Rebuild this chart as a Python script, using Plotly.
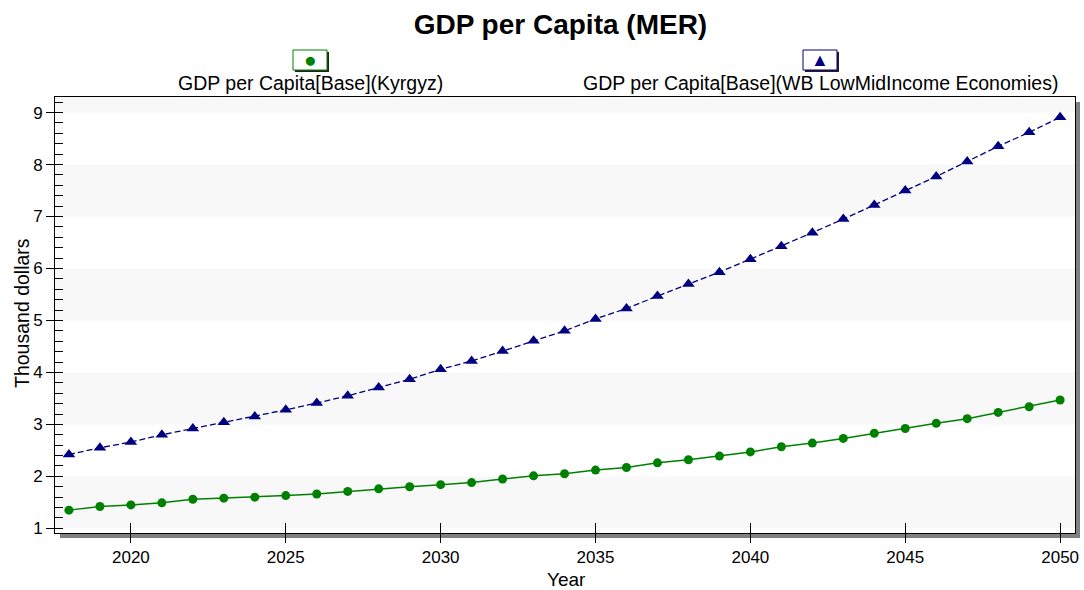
import plotly.graph_objects as go

# ---- data ----
years = list(range(2018, 2051))
kyrgyz = [1.35, 1.42, 1.45, 1.49, 1.56, 1.58, 1.60, 1.63, 1.66, 1.71, 1.76, 1.80, 1.84,
          1.88, 1.95, 2.01, 2.05, 2.12, 2.17, 2.26, 2.32, 2.39, 2.47,
          2.57, 2.64, 2.73, 2.83, 2.92, 3.02, 3.11, 3.23, 3.34, 3.47]
wb_lowmid = [2.42, 2.55, 2.66, 2.80, 2.92, 3.04, 3.15, 3.28, 3.41, 3.55, 3.71, 3.87, 4.06,
             4.22, 4.41, 4.61, 4.80, 5.03, 5.23, 5.47, 5.70, 5.93, 6.18,
             6.43, 6.69, 6.95, 7.22, 7.50, 7.77, 8.06, 8.35, 8.62, 8.91]
series_names = ["GDP per Capita[Base](Kyrgyz)",
                "GDP per Capita[Base](WB LowMidIncome Economies)"]
title_text = "GDP per Capita (MER)"
x_title = "Year"
y_title = "Thousand dollars"
x_ticks = [2020, 2025, 2030, 2035, 2040, 2045, 2050]
band_starts = [1, 3, 5, 7, 9]

# ---- layout constants ----
W, H = 1084, 590
ML, MR, MT, MB = 55, 9, 97, 57
PW, PH = W - ML - MR, H - MT - MB
XR = [2017.55, 2050.48]
YR = [0.91, 9.30]
FONT = "Liberation Sans, Arial, sans-serif"
GREEN = "#008000"
NAVY = "#000080"

def px_x(p):
    return p / PW

def px_y(p):
    return p / PH

fig = go.Figure()
fig.add_trace(go.Scatter(
    x=years, y=kyrgyz, mode="lines+markers", name=series_names[0],
    line=dict(color=GREEN, width=1.5),
    marker=dict(symbol="circle", size=9, color=GREEN),
    showlegend=False))
fig.add_trace(go.Scatter(
    x=years, y=wb_lowmid, mode="lines+markers", name=series_names[1],
    line=dict(color=NAVY, width=1.3, dash="6px,3px"),
    marker=dict(symbol="triangle-up", size=11, color=NAVY),
    showlegend=False))
# empty trace for overlay axes (inside tick parts)
fig.add_trace(go.Scatter(x=[None], y=[None], xaxis="x2", yaxis="y2",
                         showlegend=False, hoverinfo="skip"))

shapes = []
# alternating bands
for b in band_starts:
    shapes.append(dict(type="rect", xref="x domain", yref="y", x0=0, x1=1,
                       y0=b, y1=min(b + 1, YR[1]), fillcolor="#f8f8f8",
                       line=dict(width=0), layer="below"))
# drop shadow of the plot frame (bottom and right strips)
sh = 5
shapes.append(dict(type="rect", xref="paper", yref="paper",
                   x0=px_x(sh), x1=1 + px_x(sh), y0=-px_y(sh), y1=0,
                   fillcolor="#808080", line=dict(width=0), layer="below"))
shapes.append(dict(type="rect", xref="paper", yref="paper",
                   x0=1, x1=1 + px_x(sh), y0=-px_y(sh), y1=1 - px_y(sh),
                   fillcolor="#808080", line=dict(width=0), layer="below"))

# legend boxes
annotations = []
legend_items = [
    (310, GREEN, "\u25CF", series_names[0], 21),
    (820, NAVY, "\u25B2", series_names[1], 18),
]
for cx, col, sym, name, ssz in legend_items:
    x0, x1 = px_x(cx - 17 - ML), px_x(cx + 17 - ML)
    y1, y0 = px_y(533 - 50), px_y(533 - 70)
    shapes.append(dict(type="rect", xref="paper", yref="paper",
                       x0=x0 + px_x(2), x1=x1 + px_x(2), y0=y0 - px_y(2), y1=y1 - px_y(2),
                       fillcolor="#202020", line=dict(width=0)))
    shapes.append(dict(type="rect", xref="paper", yref="paper",
                       x0=x0, x1=x1, y0=y0, y1=y1,
                       fillcolor="white", line=dict(color=col, width=1)))
    annotations.append(dict(xref="paper", yref="paper", x=px_x(cx - ML), y=px_y(533 - 60),
                            text=sym, showarrow=False, xanchor="center", yanchor="middle",
                            font=dict(family=FONT, size=ssz, color=col)))
    annotations.append(dict(xref="paper", yref="paper", x=px_x(cx - ML), y=px_y(533 - 83),
                            text=name, showarrow=False, xanchor="center", yanchor="middle",
                            font=dict(family=FONT, size=19.5, color="black")))

# axis titles
annotations.append(dict(xref="paper", yref="paper", x=px_x(566 - ML), y=px_y(533 - 579),
                        text=x_title, showarrow=False, xanchor="center", yanchor="middle",
                        font=dict(family=FONT, size=19, color="black")))
annotations.append(dict(xref="paper", yref="paper", x=px_x(22 - ML), y=px_y(533 - 313),
                        text=y_title, showarrow=False, xanchor="center", yanchor="middle",
                        textangle=-90, font=dict(family=FONT, size=19.5, color="black")))

fig.update_layout(
    width=W, height=H,
    margin=dict(l=ML, r=MR, t=MT, b=MB, autoexpand=False),
    paper_bgcolor="white", plot_bgcolor="white",
    title=dict(text="<b>" + title_text + "</b>", x=0.517, xanchor="center",
               y=1 - 24 / H, yanchor="middle", yref="container",
               font=dict(family=FONT, size=28, color="black")),
    font=dict(family=FONT, size=17, color="black"),
    xaxis=dict(range=XR, tickvals=x_ticks, ticks="outside", ticklen=9,
               tickcolor="black", tickwidth=1, showgrid=False, zeroline=False,
               showline=True, linecolor="black", linewidth=1, mirror=True,
               automargin=False,
               tickfont=dict(family=FONT, size=17, color="black")),
    yaxis=dict(range=YR, dtick=1, tick0=0, ticks="outside", ticklen=8,
               tickcolor="black", tickwidth=1, showgrid=False, zeroline=False,
               showline=True, linecolor="black", linewidth=1, mirror=True,
               automargin=False,
               tickfont=dict(family=FONT, size=17, color="black"),
               minor=dict(ticks="inside", dtick=0.2, ticklen=8, tickcolor="black",
                          showgrid=False)),
    xaxis2=dict(range=XR, overlaying="x", anchor="y2", tickvals=x_ticks,
                ticks="inside", ticklen=10, tickcolor="black", showticklabels=False,
                showgrid=False, zeroline=False, showline=False, automargin=False),
    yaxis2=dict(range=YR, overlaying="y", anchor="x2", side="left", dtick=1, tick0=0,
                ticks="inside", ticklen=8, tickcolor="black", showticklabels=False,
                showgrid=False, zeroline=False, showline=False, automargin=False),
    shapes=shapes,
    annotations=annotations,
)

fig.write_html("out.html",
               config={"displayModeBar": False},
               post_script="document.body.style.margin='0px';"
                           "document.body.style.overflow='hidden';")
